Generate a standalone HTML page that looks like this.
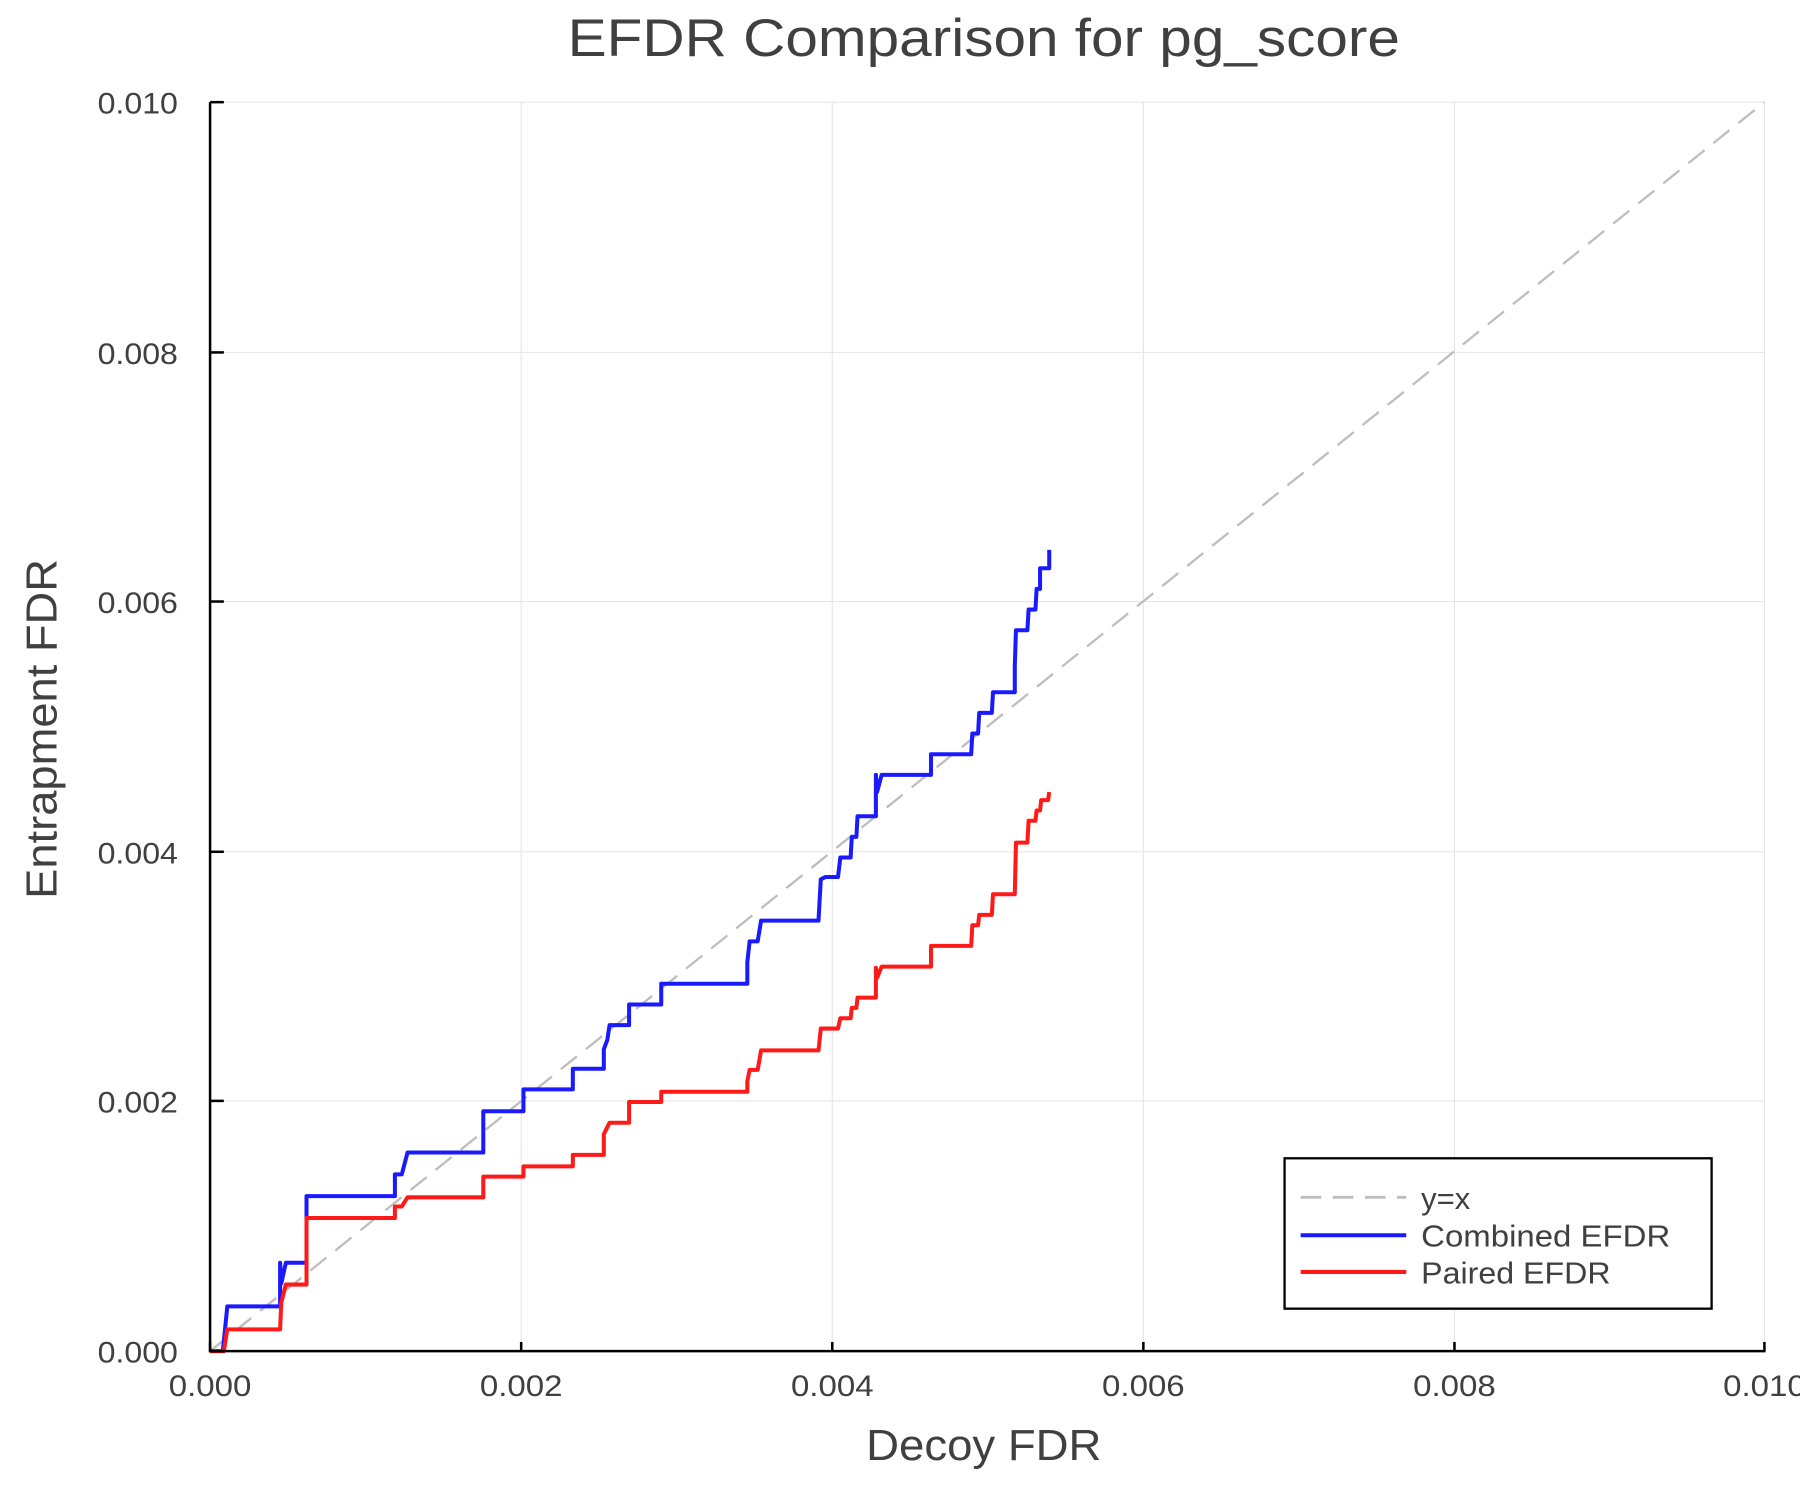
<!DOCTYPE html>
<html><head><style>html,body{margin:0;padding:0;background:#fff;}svg{display:block;}</style></head>
<body>
<svg width="1800" height="1500" viewBox="0 0 1568 1306.67" xmlns="http://www.w3.org/2000/svg" font-family="Liberation Sans, sans-serif">
<rect width="1568" height="1307" fill="#fff"/>
<g stroke="#e6e6e6" stroke-width="1">
<line x1="454" y1="89" x2="454" y2="1177"/><line x1="725" y1="89" x2="725" y2="1177"/><line x1="996" y1="89" x2="996" y2="1177"/><line x1="1267" y1="89" x2="1267" y2="1177"/><line x1="1537" y1="89" x2="1537" y2="1177"/>
<line x1="183" y1="89" x2="1537" y2="89"/><line x1="183" y1="307" x2="1537" y2="307"/><line x1="183" y1="524" x2="1537" y2="524"/><line x1="183" y1="742" x2="1537" y2="742"/><line x1="183" y1="959" x2="1537" y2="959"/>
</g>
<line x1="183" y1="1177" x2="1537" y2="89" stroke="#bdbdbd" stroke-width="2" stroke-dasharray="18,10"/>
<polyline fill="none" stroke="#1a1aff" stroke-width="3.5" stroke-linejoin="round" points="183,1177 194,1177 195,1168 198,1138 244,1138 244,1100 245,1118 249,1100 267,1100 267,1042 344,1042 344,1023 350,1023 355,1004 421,1004 421,968 456,968 456,949 499,949 499,931 526,931 526,914 529,906 531,893 548,893 548,875 576,875 576,857 651,857 651,838 653,820 660,820 663,802 713,802 715,766 719,764 730,764 732,747 741,747 742,729 746,729 747,711 763,711 763,675 764,690 768,675 811,675 811,657 846,657 847,639 852,639 853,621 864,621 865,603 884,603 884,580 885,549 895,549 896,531 902,531 903,513 906,513 906,495 913,495 914,495 914,479"/>
<polyline fill="none" stroke="#ff1a1a" stroke-width="3.5" stroke-linejoin="round" points="183,1177 195,1177 198,1158 244,1158 245,1135 249,1119 267,1119 267,1061 344,1061 344,1051 350,1051 355,1043 421,1043 421,1025 456,1025 456,1016 499,1016 499,1006 526,1006 526,988 531,978 548,978 548,960 554,960 576,960 576,951 651,951 651,942 653,932 660,932 663,915 713,915 715,896 730,896 732,887 741,887 742,878 746,878 747,869 763,869 763,843 764,852 768,842 811,842 811,824 846,824 847,806 852,806 853,797 864,797 865,779 884,779 885,734 895,734 896,715 902,715 903,706 906,706 907,697 913,697 914,690"/>
<g stroke="#000" stroke-width="2.2">
<line x1="183" y1="89" x2="183" y2="1178"/><line x1="182" y1="1177" x2="1538" y2="1177"/>
<line x1="454" y1="1177" x2="454" y2="1169"/><line x1="725" y1="1177" x2="725" y2="1169"/><line x1="996" y1="1177" x2="996" y2="1169"/><line x1="1267" y1="1177" x2="1267" y2="1169"/><line x1="1537" y1="1177" x2="1537" y2="1169"/><line x1="183" y1="1177" x2="183" y2="1169"/>
<line x1="183" y1="89" x2="195" y2="89"/><line x1="183" y1="307" x2="195" y2="307"/><line x1="183" y1="524" x2="195" y2="524"/><line x1="183" y1="742" x2="195" y2="742"/><line x1="183" y1="959" x2="195" y2="959"/><line x1="183" y1="1177" x2="195" y2="1177"/>
</g>
<g fill="#404040" font-size="26" text-anchor="middle">
<text x="183" y="1216" textLength="72" lengthAdjust="spacingAndGlyphs">0.000</text><text x="454" y="1216" textLength="72" lengthAdjust="spacingAndGlyphs">0.002</text><text x="725" y="1216" textLength="72" lengthAdjust="spacingAndGlyphs">0.004</text><text x="996" y="1216" textLength="72" lengthAdjust="spacingAndGlyphs">0.006</text><text x="1267" y="1216" textLength="72" lengthAdjust="spacingAndGlyphs">0.008</text><text x="1537" y="1216" textLength="72" lengthAdjust="spacingAndGlyphs">0.010</text>
</g>
<g fill="#404040" font-size="26" text-anchor="end">
<text x="155" y="99" textLength="70" lengthAdjust="spacingAndGlyphs">0.010</text><text x="155" y="317" textLength="70" lengthAdjust="spacingAndGlyphs">0.008</text><text x="155" y="534" textLength="70" lengthAdjust="spacingAndGlyphs">0.006</text><text x="155" y="752" textLength="70" lengthAdjust="spacingAndGlyphs">0.004</text><text x="155" y="969" textLength="70" lengthAdjust="spacingAndGlyphs">0.002</text><text x="155" y="1187" textLength="70" lengthAdjust="spacingAndGlyphs">0.000</text>
</g>
<text x="857" y="49" fill="#404040" font-size="46" text-anchor="middle" textLength="725" lengthAdjust="spacingAndGlyphs">EFDR Comparison for pg_score</text>
<text x="857" y="1272" fill="#404040" font-size="38" text-anchor="middle" textLength="205" lengthAdjust="spacingAndGlyphs">Decoy FDR</text>
<text transform="translate(49,635) rotate(-90)" fill="#404040" font-size="38" text-anchor="middle" textLength="296" lengthAdjust="spacingAndGlyphs">Entrapment FDR</text>
<rect x="1119" y="1009" width="372" height="131" fill="#fff" stroke="#000" stroke-width="2"/>
<line x1="1133" y1="1043" x2="1225" y2="1043" stroke="#bdbdbd" stroke-width="2.5" stroke-dasharray="18,10"/>
<line x1="1133" y1="1076" x2="1225" y2="1076" stroke="#1a1aff" stroke-width="3.5"/>
<line x1="1133" y1="1108" x2="1225" y2="1108" stroke="#ff1a1a" stroke-width="3.5"/>
<g fill="#404040" font-size="27">
<text x="1238" y="1053">y=x</text><text x="1238" y="1086" textLength="217" lengthAdjust="spacingAndGlyphs">Combined EFDR</text><text x="1238" y="1118" textLength="165" lengthAdjust="spacingAndGlyphs">Paired EFDR</text>
</g>
</svg>
</body></html>
